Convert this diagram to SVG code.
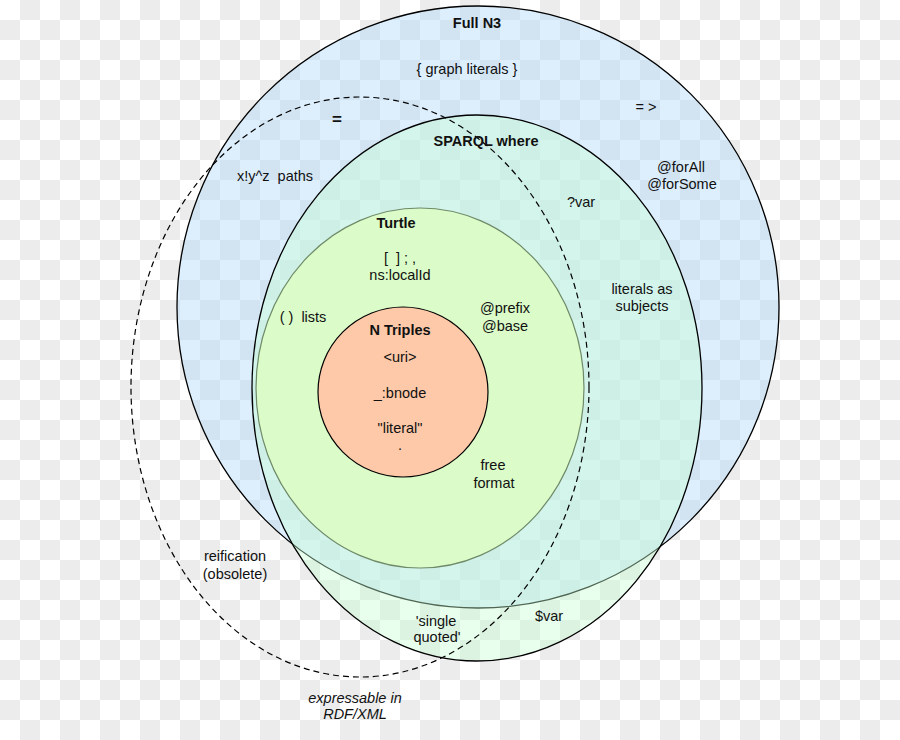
<svg xmlns="http://www.w3.org/2000/svg" width="900" height="740" viewBox="0 0 900 740">
<defs>
<pattern id="checker" width="40" height="40" patternUnits="userSpaceOnUse">
<rect width="40" height="40" fill="#ffffff"/>
<rect x="20" y="0" width="20" height="20" fill="#ececec"/>
<rect x="0" y="20" width="20" height="20" fill="#ececec"/>
</pattern>
</defs>
<style>
text{font-family:"Liberation Sans",Arial,Helvetica,sans-serif;font-size:14.5px;fill:#111;text-anchor:middle;white-space:pre}
.b{font-weight:bold}
.i{font-style:italic}
</style>
<rect width="900" height="740" fill="url(#checker)"/>
<g id="fulln3">
<circle cx="478" cy="307" r="301" fill="#b4dcfa" fill-opacity="0.45" stroke="#000" stroke-width="1.3"/>
</g>
<g id="sparql">
<ellipse cx="477" cy="388" rx="225" ry="273" fill="#c8ffd2" fill-opacity="0.4" stroke="#000" stroke-width="1.3"/>
</g>
<g id="turtle">
<ellipse cx="420" cy="388" rx="164" ry="180" fill="#dbfbc8" stroke="#6f8a68" stroke-width="1.2"/>
</g>
<g id="ntriples">
<circle cx="403" cy="392" r="85" fill="#fdc9a8" stroke="#000" stroke-width="1.2"/>
</g>
<g id="rdfxml">
<ellipse cx="360" cy="387" rx="229" ry="290" fill="none" stroke="#000" stroke-width="1.2" stroke-dasharray="6,4"/>
</g>
<g id="labels">
<text class="b" x="477" y="28">Full N3</text>
<text x="467" y="74">{ graph literals }</text>
<text x="646" y="112">= &gt;</text>
<text class="b" x="337" y="125" style="font-size:17px">=</text>
<text class="b" x="486" y="146">SPARQL where</text>
<text x="275" y="181" xml:space="preserve">x!y^z  paths</text>
<text x="681" y="172">@forAll</text>
<text x="682" y="189">@forSome</text>
<text x="581" y="207">?var</text>
<text class="b" x="396" y="228">Turtle</text>
<text x="400" y="263" xml:space="preserve">[  ] ; ,</text>
<text x="400" y="280">ns:localId</text>
<text x="642" y="294">literals as</text>
<text x="642" y="311">subjects</text>
<text x="303" y="322" xml:space="preserve">( )  lists</text>
<text x="505" y="313">@prefix</text>
<text x="505" y="331">@base</text>
<text class="b" x="400" y="335">N Triples</text>
<text x="400" y="362">&lt;uri&gt;</text>
<text x="400" y="398">_:bnode</text>
<text x="400" y="433">"literal"</text>
<text x="400" y="450">.</text>
<text x="493" y="470">free</text>
<text x="494" y="488">format</text>
<text x="235" y="561">reification</text>
<text x="235" y="579">(obsolete)</text>
<text x="436" y="626">'single</text>
<text x="437" y="642">quoted'</text>
<text x="549" y="621">$var</text>
<text class="i" x="355" y="703">expressable in</text>
<text class="i" x="355" y="719">RDF/XML</text>
</g>
</svg>
